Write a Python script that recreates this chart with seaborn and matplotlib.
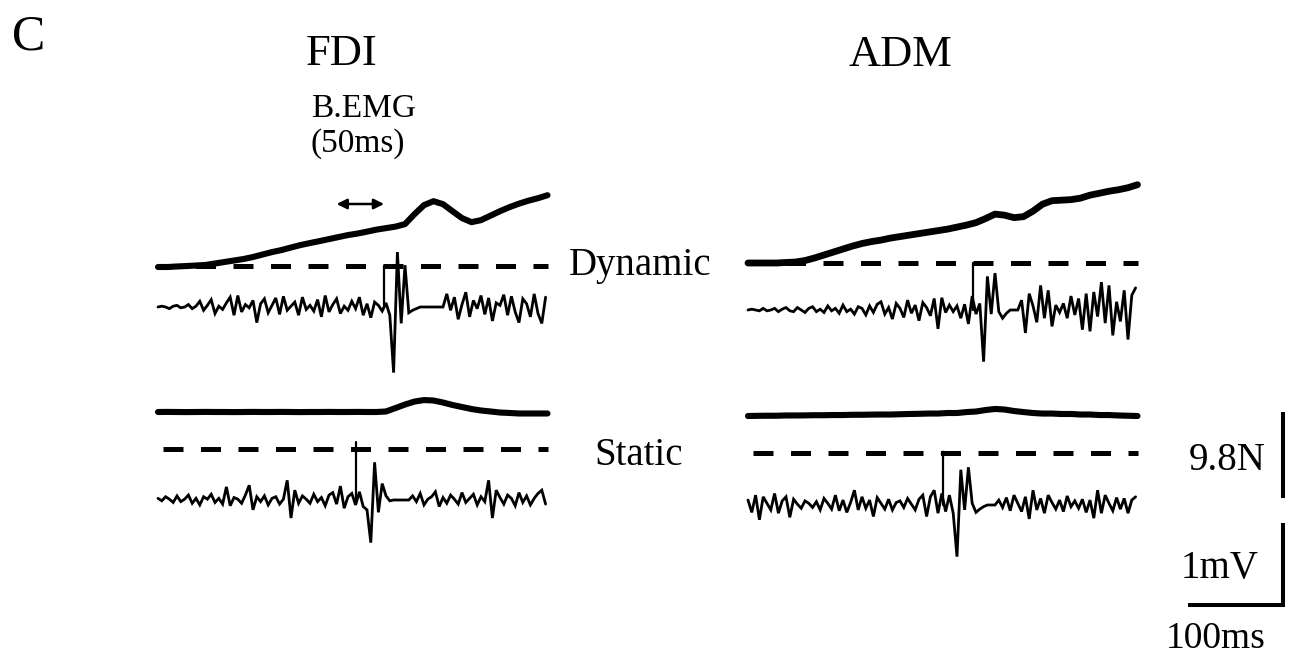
import numpy as np
import matplotlib
matplotlib.use("Agg")
import matplotlib.pyplot as plt
import seaborn as sns

# ---------------- data ----------------
muscles = ["FDI", "ADM"]
conditions = ["Dynamic", "Static"]

force_t_ms = np.arange(0, 411, 10)          # force sampling times (ms)
emg_t_ms = np.arange(0, 409, 4)             # EMG sampling times (ms)

# force (N, relative to the start of each sweep)
force_fdi_dynamic = [0, 0, 0.06, 0.11, 0.17, 0.23, 0.40, 0.57, 0.74, 0.91,
                     1.14, 1.42, 1.70, 1.93, 2.22, 2.50, 2.73, 2.95, 3.18, 3.41,
                     3.64, 3.81, 4.03, 4.26, 4.43, 4.60, 4.89, 6.02, 7.05, 7.50,
                     7.16, 6.36, 5.57, 5.11, 5.34, 5.85, 6.36, 6.82, 7.22, 7.56,
                     7.84, 8.18]
force_adm_dynamic = [0, 0, 0, 0, 0.06, 0.11, 0.28, 0.57, 0.91, 1.25,
                     1.59, 1.93, 2.22, 2.44, 2.61, 2.84, 3.01, 3.18, 3.35, 3.52,
                     3.69, 3.86, 4.09, 4.32, 4.60, 5.06, 5.57, 5.45, 5.17, 5.28,
                     5.91, 6.70, 7.10, 7.16, 7.22, 7.39, 7.73, 7.95, 8.18, 8.35,
                     8.58, 8.92]
force_fdi_static = [0, 0.01, 0, -0.01, 0, 0.01, 0, 0, -0.01, 0,
                    0.01, 0, 0, 0.01, 0, -0.01, 0, 0, 0.01, 0,
                    0, 0.01, 0, 0, 0.06, 0.45, 0.85, 1.19, 1.36, 1.31,
                    1.08, 0.80, 0.57, 0.34, 0.17, 0.06, -0.06, -0.11, -0.17, -0.17,
                    -0.17, -0.17]
force_adm_static = [0, 0.02, 0.03, 0.03, 0.06, 0.06, 0.07, 0.09, 0.09, 0.11,
                    0.11, 0.14, 0.14, 0.16, 0.17, 0.17, 0.20, 0.23, 0.25, 0.28,
                    0.28, 0.34, 0.34, 0.45, 0.51, 0.68, 0.80, 0.74, 0.57, 0.45,
                    0.34, 0.28, 0.28, 0.23, 0.23, 0.17, 0.17, 0.11, 0.11, 0.06,
                    0.03, 0]

# EMG (mV)
emg_fdi_dynamic = [0, 0.01, 0, -0.02, 0.01, 0.02, -0.01, 0, 0.03, -0.02, 0.01,
                   0.07, -0.04, 0.02, 0.09, -0.08, 0.01, -0.03, 0.05, 0.12, -0.10,
                   0.14, -0.06, 0.03, -0.01, 0.08, -0.19, 0.04, 0.10, -0.07, 0.02,
                   0.11, -0.09, 0.13, -0.04, 0.01, 0.06, -0.10, 0.12, -0.03, 0.02,
                   -0.05, 0.09, -0.12, 0.14, -0.06, 0.03, 0.10, -0.08, 0.01, -0.04,
                   0.07, -0.02, 0.12, -0.10, 0.04, -0.13, 0.06, 0.02, -0.05,
                   0.05, -0.10, -0.80, 0.67, -0.20, 0.51, -0.07, -0.04, -0.02,
                   0, 0, 0, 0, 0, 0, 0,
                   0.16, -0.04, 0.12, -0.15, 0.03, 0.18, -0.12, 0.08, -0.02, 0.14,
                   -0.09, 0.11, -0.17, 0.05, 0.02, 0.15, -0.10, 0.13, -0.06, -0.19,
                   0.10, 0.04, -0.12, 0.16, -0.08, -0.20, 0.12]
emg_adm_dynamic = [0, 0.01, 0, -0.01, 0.02, -0.01, 0, 0.02, -0.02, 0.01,
                   0.03, -0.01, -0.02, 0.03, 0, -0.03, 0.02, 0.04, -0.02, 0.01,
                   -0.03, 0.05, -0.01, 0.02, -0.04, 0.06, -0.02, 0.01, -0.05, 0.04,
                   0.02, -0.06, 0.05, -0.03, 0.07,
                   0.10, -0.05, 0.03, -0.11, 0.08, 0.02, -0.09, 0.12, -0.04, 0.06,
                   -0.13, 0.09, 0.03, -0.07, 0.14, -0.23, 0.15, -0.03, 0.06, -0.02,
                   0.05, -0.10, 0.07,
                   -0.17, 0.17, -0.05, 0.08, -0.63, 0.41, -0.05, 0.45, -0.02, -0.10, -0.04,
                   0, 0, 0,
                   0.12, -0.28, 0.20, 0.05, -0.15, 0.30, -0.10, 0.24, -0.20, 0.06,
                   -0.03, 0.08, -0.10, 0.17, -0.06, 0.14, -0.24, 0.20, -0.26, 0.22,
                   -0.08, 0.34, -0.16, 0.30, -0.31, 0.10, -0.14, 0.24, -0.36, 0.18,
                   0.27]
emg_fdi_static = [0.02, -0.01, 0.04, 0.01, -0.03, 0.05, -0.02, 0.01, 0.06, -0.04,
                  0.02, -0.06, 0.04, 0.01, 0.07, -0.03, 0.02, -0.05,
                  0.16, -0.07, 0.03, 0.01, -0.04, 0.06, 0.18, -0.12, 0.04, -0.02,
                  0.05, -0.06, 0.02, 0.04, -0.05, 0.01,
                  0.24, -0.22, 0.12, -0.04,
                  0.05, 0.01, -0.04, 0.07, -0.02, 0.03, -0.07, 0.06, 0.09, -0.05,
                  0.17, -0.10, 0.04, 0.08, -0.06, 0.10, -0.08, -0.12,
                  -0.52, 0.46, -0.15, 0.20, 0.05, -0.01, 0,
                  0, 0, 0, 0,
                  0.05, -0.02, 0.08, -0.06, 0.01, 0.04, 0.10, -0.08, 0.03, -0.04,
                  0.06, 0.01, -0.05, 0.09, -0.03, 0.02, 0.07, -0.06, 0.04, -0.02,
                  0.24, -0.22, 0.12, 0.03, -0.05, 0.06, 0.02, -0.07, 0.09, -0.03,
                  0.05, -0.06, 0.02, 0.08, 0.12, -0.05]
emg_adm_static = [0.06, -0.09, 0.12, -0.18, 0.10, 0.02, -0.06, 0.14, -0.10, 0.05,
                  0.10, -0.15, 0.07, 0.01, -0.04, 0.05, 0.02, -0.03, 0.04, -0.06,
                  0.08, 0.02, -0.05, 0.12, -0.07, 0.06, -0.09, 0.03, 0.18, -0.06,
                  0.10, -0.04, 0.06, -0.14, 0.09, 0.02, -0.05, 0.07, -0.06, 0.03,
                  0.05, -0.03, 0.08, 0.01, -0.06, 0.07, 0.12, -0.14, 0.10, 0.18,
                  -0.10, 0.14, -0.08,
                  0.12, -0.10, -0.63, 0.43, -0.06, 0.46, 0.02, -0.09, -0.05, -0.02,
                  0, 0, 0,
                  0.06, -0.03, 0.09, -0.07, 0.12, 0.02, -0.08, 0.10, -0.17, 0.18,
                  -0.06, 0.08, -0.10, 0.12, 0.03, -0.05, 0.06, -0.08, 0.11, -0.02,
                  0.05, -0.04, 0.07, -0.09, 0.06, -0.16, 0.18, -0.10, 0.12, 0.02,
                  -0.07, 0.09, -0.05, 0.08, -0.10, 0.06, 0.10]

stim_ms = [238, 237, 208, 205]               # TMS trigger time per sweep
target_level_mV = [0.50, 0.57, 0.62, 0.63]   # dashed reference level
bemg_window_ms = 50
scale_time_ms = 100
scale_emg_mV = 1
scale_force_N = 9.8

# ---------------- layout ----------------
W, H = 1293, 659
PX_MS = 0.95
PX_MV = 82.0
PX_N = 86.0 / 9.8

sns.set_theme(style="white")
plt.rcParams["font.family"] = ["Liberation Serif", "DejaVu Serif"]
plt.rcParams["lines.scale_dashes"] = False

fig = plt.figure(figsize=(W / 100, H / 100), dpi=100)

panels = [
    dict(L=150, R=560, top=170, bot=390, x0=158, eb=307, fb=267,
         force=force_fdi_dynamic, emg=emg_fdi_dynamic, ds=0, flw=4.4),
    dict(L=740, R=1150, top=170, bot=390, x0=748, eb=310, fb=263,
         force=force_adm_dynamic, emg=emg_adm_dynamic, ds=0, flw=4.9),
    dict(L=150, R=560, top=390, bot=570, x0=158, eb=500, fb=412,
         force=force_fdi_static, emg=emg_fdi_static, ds=5, flw=4.4),
    dict(L=740, R=1150, top=390, bot=570, x0=748, eb=505, fb=416,
         force=force_adm_static, emg=emg_adm_static, ds=5, flw=4.4),
]

axes = []
for i, p in enumerate(panels):
    rect = [p["L"] / W, 1 - p["bot"] / H, (p["R"] - p["L"]) / W, (p["bot"] - p["top"]) / H]
    xlim = ((p["L"] - p["x0"]) / PX_MS, (p["R"] - p["x0"]) / PX_MS)
    ax = fig.add_axes(rect)
    axf = fig.add_axes(rect)
    ax.set_xlim(*xlim)
    axf.set_xlim(*xlim)
    ax.set_ylim(-(p["bot"] - p["eb"]) / PX_MV, (p["eb"] - p["top"]) / PX_MV)
    axf.set_ylim(-(p["bot"] - p["fb"]) / PX_N, (p["fb"] - p["top"]) / PX_N)
    for a in (ax, axf):
        a.axis("off")
        a.patch.set_alpha(0)

    # force
    sns.lineplot(x=force_t_ms, y=p["force"], ax=axf, color="black",
                 linewidth=p["flw"], estimator=None, sort=False,
                 solid_capstyle="round", solid_joinstyle="round")
    # dashed target level
    ax.plot([p["ds"], 410], [target_level_mV[i]] * 2, color="black", lw=3.6,
            dashes=(14.4, 12.6), dash_capstyle="butt")
    # EMG
    sns.lineplot(x=emg_t_ms, y=p["emg"], ax=ax, color="black", linewidth=2.0,
                 estimator=None, sort=False, solid_joinstyle="miter")
    # trigger marker
    lo = -0.05 if i == 2 else 0
    hi = target_level_mV[i] + (0.09 if i == 2 else 0)
    ax.plot([stim_ms[i], stim_ms[i]], [lo, hi], color="black", lw=1.6)
    if i == 3:
        ax.plot([stim_ms[i]], [hi], "o", color="black", ms=3)
    axes.append((ax, axf))

# B.EMG window arrow (FDI dynamic)
ax0 = axes[0][0]
y_arrow = (307 - 204) / PX_MV
ax0.annotate("", xy=(stim_ms[0] - bemg_window_ms, y_arrow), xytext=(stim_ms[0], y_arrow),
             arrowprops=dict(arrowstyle="<|-|>,head_length=0.5,head_width=0.25",
                             color="black", lw=1.8, shrinkA=0, shrinkB=0))

# scale bars (ADM static sweep)
ax3, axf3 = axes[3]
t_bar = (1283 - 748) / PX_MS
y_bar = (505 - 605) / PX_MV
ax3.plot([t_bar - scale_time_ms, t_bar, t_bar],
         [y_bar, y_bar, y_bar + scale_emg_mV],
         color="black", lw=2.9, clip_on=False, solid_joinstyle="miter",
         solid_capstyle="butt")
f_top = (416 - 412) / PX_N
axf3.plot([t_bar, t_bar], [f_top, f_top - scale_force_N], color="black", lw=2.9,
          clip_on=False, solid_capstyle="butt")

# texts
def ftext(x, y, s, size, ha="left"):
    fig.text(x / W, 1 - y / H, s, fontsize=size, ha=ha, va="baseline", color="black")

ftext(12, 50, "C", 36)
ftext(306, 65, "FDI", 32)
ftext(849, 66, "ADM", 32)
ftext(311, 117, "B.EMG", 24)
ftext(310, 152, "(50ms)", 24)
ftext(569, 275, "Dynamic", 28)
ftext(594, 465, "Static", 28)
ftext(1265, 470, "9.8N", 28, ha="right")
ftext(1181, 578, "1mV", 28)
ftext(1166, 648, "100ms", 27)

fig.savefig("out.png", dpi=100)
